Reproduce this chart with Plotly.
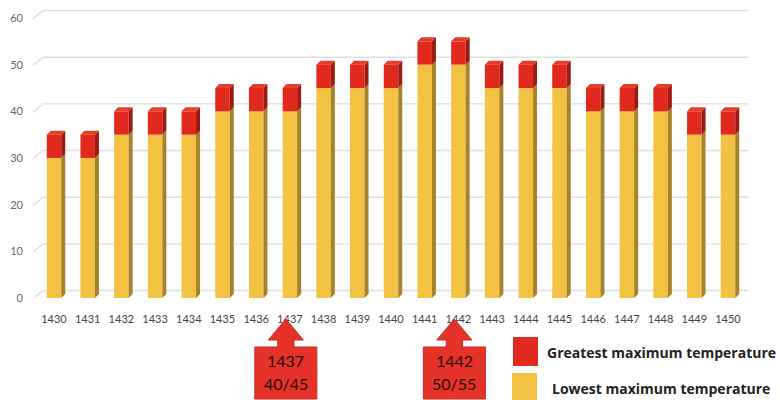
import plotly.graph_objects as go

# ---- data ----
years = ["1430", "1431", "1432", "1433", "1434", "1435", "1436", "1437", "1438", "1439", "1440",
         "1441", "1442", "1443", "1444", "1445", "1446", "1447", "1448", "1449", "1450"]
lowest_max = [30, 30, 35, 35, 35, 40, 40, 40, 45, 45, 45, 50, 50, 45, 45, 45, 40, 40, 40, 35, 35]
greatest_max = [35, 35, 40, 40, 40, 45, 45, 45, 50, 50, 50, 55, 55, 50, 50, 50, 45, 45, 45, 40, 40]
y_ticks = [0, 10, 20, 30, 40, 50, 60]
highlights = ["1437", "1442"]
series_names = ["Greatest maximum temperature", "Lowest maximum temperature"]

# ---- style ----
RED = "#e2291d"
RED_SIDE = "#9b1b12"
RED_TOP = "#e53d2c"
YEL = "#f3c243"
YEL_SIDE = "#a6832a"
W = 780
H = 400
ML, MR, MT, MB = 30, 5, 10, 102
PW = W - ML - MR
PH = H - MT - MB
X0 = 1429.288
PXU = 33.7
X1 = X0 + PW / PXU
YU = 4.667
Y1 = PH / YU

xs = [int(y) for y in years]
diff = [g - l for g, l in zip(greatest_max, lowest_max)]
BW = 0.43
DX = 4 / PXU
DY = 4 / YU

fig = go.Figure()
fig.add_trace(go.Bar(x=xs, y=lowest_max, width=BW, marker=dict(color=YEL, line=dict(width=0)),
                     name=series_names[1], showlegend=False, hoverinfo="skip"))
fig.add_trace(go.Bar(x=xs, y=diff, base=lowest_max, width=BW, marker=dict(color=RED, line=dict(width=0)),
                     name=series_names[0], showlegend=False, hoverinfo="skip"))


def faces(bottoms, tops, kind):
    px, py = [], []
    for x, b, t in zip(xs, bottoms, tops):
        xl, xr = x - BW / 2, x + BW / 2
        if kind == "side":
            px += [xr, xr + DX, xr + DX, xr, xr, None]
            py += [b, b + DY, t + DY, t, b, None]
        else:
            px += [xl, xl + DX, xr + DX, xr, xl, None]
            py += [t, t + DY, t + DY, t, t, None]
    return px, py


for bots, tops, col in [([0] * len(xs), lowest_max, YEL_SIDE), (lowest_max, greatest_max, RED_SIDE)]:
    px, py = faces(bots, tops, "side")
    fig.add_trace(go.Scatter(x=px, y=py, mode="lines", fill="toself", fillcolor=col,
                             line=dict(width=0, color=col), showlegend=False, hoverinfo="skip"))
px, py = faces(lowest_max, greatest_max, "top")
fig.add_trace(go.Scatter(x=px, y=py, mode="lines", fill="toself", fillcolor=RED_TOP,
                         line=dict(width=0, color=RED_TOP), showlegend=False, hoverinfo="skip"))

shapes = []
# perspective gridlines
gx0 = X0 + 3 / PXU
gx1 = X0 + 13 / PXU
gx2 = X0 + 718 / PXU
for v in y_ticks:
    shapes.append(dict(type="path", xref="x", yref="y", layer="below",
                       path=f"M {gx0},{v - 0.2} L {gx1},{v + 1.6} L {gx2},{v + 1.6}",
                       line=dict(color="#e0e0e0", width=1.4)))


def py2p(p):
    return (MT + PH - p) / PH


def px2p(p):
    return (p - ML) / PW


annotations = []
# callout arrows
for hy in highlights:
    i = years.index(hy)
    c = xs[i] - 0.12
    yt, yh, yb, ybot = py2p(319), py2p(340), py2p(347), py2p(399)
    path = (f"M {c},{yt} L {c+0.52},{yh} L {c+0.24},{yh} L {c+0.24},{yb} L {c+0.92},{yb} "
            f"L {c+0.92},{ybot} L {c-0.92},{ybot} L {c-0.92},{yb} L {c-0.24},{yb} "
            f"L {c-0.24},{yh} L {c-0.52},{yh} Z")
    shapes.append(dict(type="path", xref="x", yref="paper", path=path,
                       fillcolor="#e5332a", line=dict(color="#c9281f", width=1)))
    annotations.append(dict(x=c, y=py2p(360), xref="x", yref="paper", text=hy, showarrow=False,
                            font=dict(family="Lato", size=16, color="#2a0906"),
                            xanchor="center", yanchor="middle"))
    annotations.append(dict(x=c, y=py2p(383), xref="x", yref="paper",
                            text=f"{lowest_max[i]}/{greatest_max[i]}", showarrow=False,
                            font=dict(family="Lato", size=16, color="#2a0906"),
                            xanchor="center", yanchor="middle"))

# custom legend
shapes.append(dict(type="rect", xref="paper", yref="paper", x0=px2p(513), x1=px2p(538),
                   y0=py2p(366), y1=py2p(337), fillcolor=RED, line=dict(width=0)))
shapes.append(dict(type="rect", xref="paper", yref="paper", x0=px2p(512), x1=px2p(537),
                   y0=py2p(402), y1=py2p(373), fillcolor=YEL, line=dict(width=0)))
annotations.append(dict(x=px2p(545), y=py2p(352), xref="paper", yref="paper",
                        text=f"<b>{series_names[0]}</b>", showarrow=False, xanchor="left",
                        yanchor="middle", font=dict(family="Open Sans", size=14, color="#222222")))
annotations.append(dict(x=px2p(550), y=py2p(388), xref="paper", yref="paper",
                        text=f"<b>{series_names[1]}</b>", showarrow=False, xanchor="left",
                        yanchor="middle", font=dict(family="Open Sans", size=14, color="#222222")))

fig.update_layout(
    width=W, height=H,
    margin=dict(l=ML, r=MR, t=MT, b=MB),
    paper_bgcolor="white", plot_bgcolor="white",
    barmode="overlay",
    shapes=shapes, annotations=annotations,
    showlegend=False,
    xaxis=dict(range=[X0, X1], tickvals=xs, ticktext=years, showgrid=False, zeroline=False,
               showline=False, ticks="", ticklabelstandoff=13,
               tickfont=dict(family="Lato", size=11, color="#444444")),
    yaxis=dict(range=[0, Y1], tickvals=y_ticks, showgrid=False, zeroline=False, showline=False,
               ticks="", ticklabelstandoff=6,
               tickfont=dict(family="Lato", size=11, color="#666666")),
)

fig.write_html("out.html")
